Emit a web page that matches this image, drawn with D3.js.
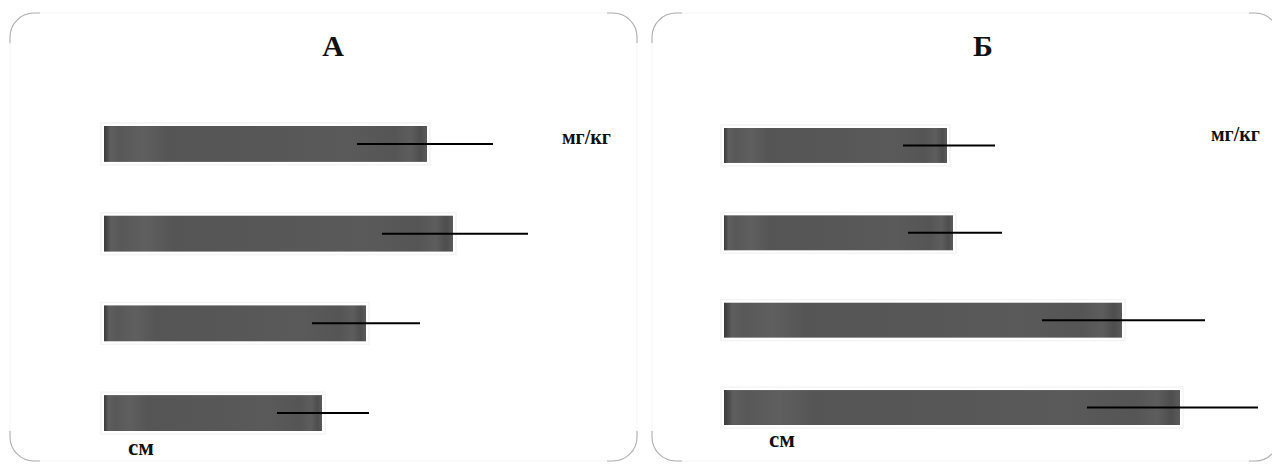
<!DOCTYPE html>
<html>
<head>
<meta charset="utf-8">
<script src="https://cdn.jsdelivr.net/npm/d3@7"></script>
<style>
  html, body { margin: 0; padding: 0; background: #fff; }
  svg { display: block; }
  text { font-family: "Liberation Serif", "DejaVu Serif", serif; fill: #111; }
</style>
</head>
<body>
<svg id="chart" width="1272" height="464"></svg>
<script>
// Panel titles
const panelTitles = ["А", "Б"];

// Four groups per panel, top to bottom
const groups = ["1", "2", "3", "4"];

// Mean values (arbitrary units, shared scale 0–100)
const valuesA = [64.6, 69.8, 52.4, 43.6];
const valuesB = [44.6, 45.8, 79.6, 91.2];

// Whisker ends (lower / upper) for each bar
const errLowA  = [50.6, 55.6, 41.6, 34.6];
const errHighA = [77.8, 84.8, 63.2, 53.0];
const errLowB  = [35.8, 36.8, 63.6, 72.6];
const errHighB = [54.2, 55.6, 96.2, 106.8];

// Unit labels
const unitTop = "мг/кг";
const unitBottom = "см";

const svg = d3.select("#chart");

// Bar fill with faint vertical streaks
const defs = svg.append("defs");
const grad = defs.append("linearGradient").attr("id", "barFill")
  .attr("x1", "0%").attr("x2", "100%").attr("y1", "0%").attr("y2", "0%");
[
  [0, "#3a3a3a"], [0.01, "#4a4a4a"], [0.02, "#5e5e5e"], [0.05, "#585858"],
  [0.12, "#5f5f5f"], [0.2, "#555555"], [0.5, "#575757"], [0.75, "#5a5a5a"],
  [0.9, "#555555"], [0.95, "#5d5d5d"], [0.98, "#4e4e4e"], [1, "#5a5a5a"]
].forEach(([o, c]) => grad.append("stop").attr("offset", o).attr("stop-color", c));

const panels = [
  { title: panelTitles[0], left: 10, right: 637, titleX: 333, barStart: 104,
    yRange: [126, 431], values: valuesA, lo: errLowA, hi: errHighA,
    unitTopPos: [562, 144], unitBottomPos: [128, 455] },
  { title: panelTitles[1], left: 652, right: 1279, titleX: 983, barStart: 724,
    yRange: [128, 425], values: valuesB, lo: errLowB, hi: errHighB,
    unitTopPos: [1211, 141], unitBottomPos: [769, 447] }
];

const frameTop = 13, frameBottom = 461, radius = 24;

panels.forEach(p => {
  const g = svg.append("g");

  // Panel frame: barely visible edges, stronger rounded corners
  g.append("rect")
    .attr("x", p.left).attr("y", frameTop)
    .attr("width", p.right - p.left).attr("height", frameBottom - frameTop)
    .attr("rx", radius).attr("ry", radius)
    .attr("fill", "#fff").attr("stroke", "#f5f5f5").attr("stroke-width", 1);

  const r = radius, t = frameTop, b = frameBottom;
  const corners = [
    `M${p.left},${t + r + 6} L${p.left},${t + r} A${r},${r} 0 0 1 ${p.left + r},${t} L${p.left + r + 6},${t}`,
    `M${p.right - r - 6},${t} L${p.right - r},${t} A${r},${r} 0 0 1 ${p.right},${t + r} L${p.right},${t + r + 6}`,
    `M${p.right},${b - r - 6} L${p.right},${b - r} A${r},${r} 0 0 1 ${p.right - r},${b} L${p.right - r - 6},${b}`,
    `M${p.left + r + 6},${b} L${p.left + r},${b} A${r},${r} 0 0 1 ${p.left},${b - r} L${p.left},${b - r - 6}`
  ];
  g.selectAll("path.corner").data(corners).join("path")
    .attr("class", "corner").attr("d", d => d)
    .attr("fill", "none").attr("stroke", "#b0b0b0").attr("stroke-width", 1.1);

  // Title
  g.append("text")
    .attr("x", p.titleX).attr("y", 56)
    .attr("text-anchor", "middle")
    .attr("font-size", 30).attr("font-weight", "bold")
    .text(p.title);

  const x = d3.scaleLinear().domain([0, 100]).range([p.barStart, p.barStart + 500]);
  const y = d3.scaleBand().domain(groups).range(p.yRange)
    .paddingInner(0.6).paddingOuter(0);

  const data = groups.map((k, i) => ({ k, v: p.values[i], lo: p.lo[i], hi: p.hi[i] }));

  // Soft light halo around each bar
  g.selectAll("rect.halo").data(data).join("rect")
    .attr("class", "halo")
    .attr("x", x(0) - 3).attr("y", d => y(d.k) - 3)
    .attr("width", d => x(d.v) - x(0) + 6).attr("height", y.bandwidth() + 6)
    .attr("fill", "none").attr("stroke", "#f4f4f4").attr("stroke-width", 1.5);

  // Bars
  g.selectAll("rect.bar").data(data).join("rect")
    .attr("class", "bar")
    .attr("x", x(0)).attr("y", d => y(d.k))
    .attr("width", d => x(d.v) - x(0)).attr("height", y.bandwidth())
    .attr("fill", "url(#barFill)");

  // Whiskers
  g.selectAll("line.err").data(data).join("line")
    .attr("class", "err")
    .attr("x1", d => x(d.lo)).attr("x2", d => x(d.hi))
    .attr("y1", d => y(d.k) + y.bandwidth() / 2)
    .attr("y2", d => y(d.k) + y.bandwidth() / 2)
    .attr("stroke", "#000").attr("stroke-width", 2);

  // Unit labels
  g.append("text")
    .attr("x", p.unitTopPos[0]).attr("y", p.unitTopPos[1])
    .attr("font-size", 20).attr("font-weight", "bold")
    .text(unitTop);
  g.append("text")
    .attr("x", p.unitBottomPos[0]).attr("y", p.unitBottomPos[1])
    .attr("font-size", 23).attr("font-weight", "bold")
    .text(unitBottom);
});
</script>
</body>
</html>
